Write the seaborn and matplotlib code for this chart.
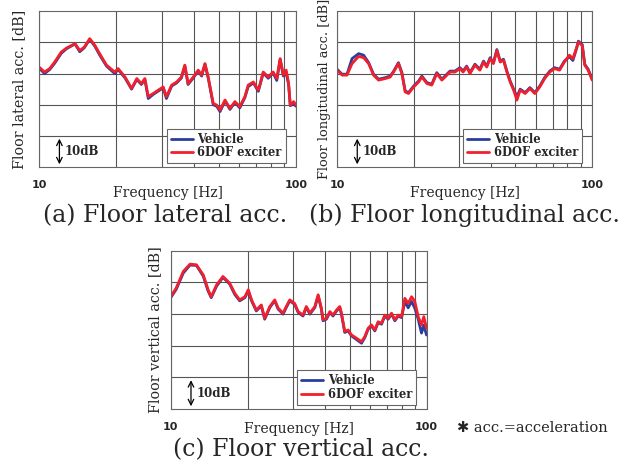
import numpy as np
import pandas as pd
import matplotlib
matplotlib.use("Agg")
import matplotlib.pyplot as plt
from matplotlib.ticker import FixedLocator, NullFormatter
import seaborn as sns

# donnees (dB relatifs, 1 carreau = 10 dB)
freq_a = [10.0, 10.5, 11.0, 11.5, 12.2, 12.8, 13.8, 14.4, 15.0, 15.75,
          16.5, 17.2, 18.3, 19.7, 20.3, 21.6, 22.9, 24.0, 25.0, 25.8,
          26.6, 27.8, 29.1, 30.4, 31.3, 32.8, 34.3, 35.8, 36.9, 38.0,
          39.8, 41.6, 42.9, 44.2, 45.5, 47.6, 49.1, 50.6, 52.9, 55.3,
          57.8, 60.4, 63.2, 65.1, 68.2, 71.3, 74.5, 77.9, 81.4, 84.1,
          86.7, 89.2, 91.5, 93.5, 94.9, 97.8, 100.0]
dof_a = [32.1, 30.5, 31.6, 33.7, 36.9, 38.2, 39.6, 37.4, 38.5, 41.2,
         39.0, 36.4, 32.7, 30.5, 31.6, 28.9, 25.2, 28.4, 26.8, 28.4,
         22.6, 23.6, 24.7, 25.7, 22.6, 26.3, 27.3, 28.9, 32.7, 26.8,
         28.9, 31.1, 29.5, 33.2, 28.9, 20.4, 19.9, 18.3, 21.5, 18.8,
         21.0, 19.4, 22.6, 26.3, 27.3, 24.7, 30.5, 28.9, 30.5, 28.4,
         34.8, 29.5, 31.1, 26.8, 19.9, 21.0, 19.9]
veh_a = [31.8, 30.0, 31.3, 33.3, 36.5, 38.0, 39.5, 37.0, 38.3, 41.0,
         38.7, 36.0, 32.4, 30.0, 31.3, 28.6, 25.0, 28.1, 26.5, 28.1,
         22.0, 23.3, 24.4, 25.4, 22.0, 26.0, 27.0, 28.6, 32.5, 26.5,
         28.6, 30.8, 29.2, 33.0, 28.6, 20.0, 19.5, 17.8, 21.2, 18.5,
         20.7, 19.0, 22.3, 25.8, 27.0, 24.3, 30.2, 28.5, 30.2, 27.8,
         34.5, 29.2, 30.2, 26.5, 19.7, 20.2, 19.5]

freq_b = [10.0, 10.46, 10.94, 11.45, 12.15, 12.71, 13.3, 13.9, 14.55, 15.46,
          16.16, 16.65, 17.4, 17.95, 18.5, 19.06, 19.96, 20.87, 21.5, 22.5,
          23.5, 24.6, 25.75, 26.5, 27.7, 29.0, 30.3, 31.2, 32.2, 33.2,
          34.7, 36.3, 37.5, 38.6, 39.8, 41.0, 42.3, 43.6, 44.9, 46.3,
          47.7, 49.2, 50.7, 52.2, 54.6, 57.0, 59.6, 62.3, 65.1, 68.2,
          71.2, 74.5, 77.8, 81.4, 84.0, 86.6, 88.3, 91.4, 93.5, 96.4, 100.0]
dof_b = [31.1, 29.5, 29.5, 33.2, 35.5, 35.1, 33.2, 29.5, 27.9, 28.4,
         28.9, 30.5, 33.2, 30.0, 24.1, 23.6, 25.7, 27.3, 28.9, 26.8,
         26.3, 30.0, 27.9, 28.9, 30.5, 30.5, 31.6, 30.5, 32.1, 30.0,
         32.7, 31.1, 33.7, 32.1, 34.8, 33.2, 37.4, 33.7, 34.3, 30.5,
         27.3, 24.7, 21.5, 24.7, 23.6, 25.2, 23.6, 25.7, 28.4, 30.5,
         31.6, 31.1, 33.7, 35.9, 34.8, 38.0, 40.1, 39.0, 32.7, 31.1, 27.9]
veh_b = [31.4, 29.8, 29.8, 34.8, 36.4, 35.9, 33.5, 29.8, 28.2, 28.7,
         29.2, 30.7, 33.5, 30.3, 24.4, 23.9, 26.0, 27.6, 29.2, 27.1,
         26.6, 30.3, 28.2, 29.2, 30.8, 30.8, 31.9, 30.8, 32.4, 30.3,
         33.0, 31.4, 34.0, 32.4, 35.1, 33.5, 37.7, 34.0, 34.6, 30.8,
         27.6, 25.0, 22.6, 25.0, 23.9, 25.5, 23.9, 26.0, 28.7, 30.8,
         31.9, 31.4, 34.0, 35.4, 34.2, 37.7, 40.4, 39.3, 33.0, 31.4, 28.2]

freq_c = [10.0, 10.5, 11.2, 11.9, 12.6, 13.4, 14.0, 14.4, 15.1, 16.0,
          17.0, 17.8, 18.6, 19.5, 20.1, 20.7, 21.6, 22.6, 23.3, 24.4,
          25.5, 26.3, 27.5, 28.3, 29.2, 30.5, 31.5, 32.9, 33.9, 35.0,
          36.6, 37.7, 38.8, 39.4, 40.6, 41.9, 43.1, 44.5, 45.8, 46.5,
          47.9, 49.4, 50.9, 53.2, 55.7, 57.4, 59.1, 60.9, 62.8, 64.7,
          66.7, 68.7, 70.8, 73.0, 75.2, 77.5, 79.9, 82.3, 84.8, 87.4,
          90.0, 92.8, 95.6, 97.6, 100.0]
dof_c = [35.5, 38.2, 43.5, 45.8, 45.6, 42.4, 37.7, 35.5, 39.2, 41.9,
         39.8, 36.6, 34.5, 35.5, 37.7, 34.5, 31.3, 32.9, 28.7, 32.4,
         34.5, 31.9, 30.3, 32.4, 34.5, 33.4, 30.8, 29.7, 32.4, 30.3,
         32.4, 36.1, 31.9, 28.2, 28.7, 30.8, 29.7, 31.3, 32.4, 30.3,
         24.5, 25.0, 23.4, 22.4, 21.3, 22.9, 25.5, 26.6, 25.0, 27.6,
         27.1, 29.7, 28.7, 30.3, 28.2, 29.7, 29.2, 35.0, 33.4, 35.5,
         34.0, 29.2, 26.6, 29.2, 25.5]
veh_c = [35.2, 37.8, 43.0, 45.5, 45.4, 42.0, 37.3, 35.2, 38.8, 41.6,
         39.5, 36.2, 34.2, 35.2, 37.4, 34.2, 31.0, 32.6, 28.4, 32.1,
         34.2, 31.6, 30.0, 32.1, 34.2, 33.1, 30.5, 29.4, 32.1, 30.0,
         32.1, 35.8, 31.6, 27.9, 28.4, 30.5, 29.4, 31.0, 32.1, 30.0,
         24.2, 24.7, 23.1, 22.0, 20.8, 22.6, 25.2, 26.3, 24.7, 27.3,
         26.8, 29.4, 28.4, 30.0, 27.9, 29.4, 28.9, 34.0, 32.0, 34.0,
         31.9, 28.4, 24.0, 26.5, 23.4]

labels_y = ['Floor lateral acc. [dB]', 'Floor longitudinal acc. [dB]', 'Floor vertical acc. [dB]']
captions = ['(a) Floor lateral acc.', '(b) Floor longitudinal acc.', '(c) Floor vertical acc.']

BLUE = '#2b3d9c'
RED = '#f0202c'
SERIF = 'DejaVu Serif'

sns.set_style("white")
fig = plt.figure(figsize=(6.3, 4.68), dpi=100)

# positions des 3 graphes (fraction de la figure)
ax_a = fig.add_axes([0.062, 0.643, 0.408, 0.333])
ax_b = fig.add_axes([0.535, 0.643, 0.405, 0.333])
ax_c = fig.add_axes([0.271, 0.126, 0.406, 0.338])


def trace(ax, f, veh, dof, ylab, ylab_x, ylab_size, xlab_y):
    df = pd.DataFrame({'f': f, 'veh': veh, 'dof': dof})
    sns.lineplot(data=df, x='f', y='veh', ax=ax, color=BLUE, lw=2.0,
                 estimator=None, sort=False, label='Vehicle')
    sns.lineplot(data=df, x='f', y='dof', ax=ax, color=RED, lw=2.0,
                 estimator=None, sort=False, label='6DOF exciter')
    ax.set_xscale('log')
    ax.set_xlim(10, 100)
    ax.set_ylim(0, 50)
    ax.set_yticks([10, 20, 30, 40])
    ax.set_yticklabels([])
    ax.xaxis.set_major_locator(FixedLocator([10, 100]))
    ax.xaxis.set_minor_locator(FixedLocator([20, 30, 40, 50, 60, 70, 80, 90]))
    ax.xaxis.set_minor_formatter(NullFormatter())
    ax.set_xticklabels(['10', '100'], fontsize=8, fontweight='bold')
    ax.tick_params(axis='both', which='both', length=0)
    ax.tick_params(axis='x', pad=9)
    ax.grid(True, which='both', color='#555555', lw=0.8)
    for s in ax.spines.values():
        s.set_color('#666666')
        s.set_linewidth(0.8)
    ax.set_xlabel('Frequency [Hz]', family=SERIF, fontsize=10)
    ax.xaxis.set_label_coords(0.5, xlab_y)
    ax.set_ylabel(ylab, family=SERIF, fontsize=ylab_size)
    ax.yaxis.set_label_coords(ylab_x, 0.5)
    # echelle 10 dB
    ax.annotate('', xy=(12.0, 0), xytext=(12.0, 10),
                arrowprops=dict(arrowstyle='<->', color='black', lw=0.9))
    ax.text(12.6, 5, '10dB', family=SERIF, fontsize=8.5, fontweight='bold',
            va='center', ha='left')
    leg = ax.legend(loc='lower right', bbox_to_anchor=(0.96, 0.025),
                    borderaxespad=0.0, frameon=True, fancybox=False,
                    handlelength=1.9, borderpad=0.35, labelspacing=0.05,
                    handletextpad=0.4,
                    prop={'family': SERIF, 'size': 8.3, 'weight': 'bold'})
    leg.get_frame().set_edgecolor('#666666')
    leg.get_frame().set_linewidth(0.8)
    leg.get_frame().set_alpha(1)


trace(ax_a, freq_a, veh_a, dof_a, labels_y[0], -0.05, 10.3, -0.12)
trace(ax_b, freq_b, veh_b, dof_b, labels_y[1], -0.025, 9.4, -0.12)
trace(ax_c, freq_c, veh_c, dof_c, labels_y[2], -0.035, 10.3, -0.08)

fig.text(0.262, 0.540, captions[0], family=SERIF, fontsize=17, ha='center', va='center')
fig.text(0.737, 0.540, captions[1], family=SERIF, fontsize=17, ha='center', va='center')
fig.text(0.478, 0.040, captions[2], family=SERIF, fontsize=17, ha='center', va='center')
fig.text(0.726, 0.085, '✱ acc.=acceleration', family=[SERIF, 'DejaVu Sans'],
         fontsize=10.5, ha='left', va='center')

fig.savefig('out.png', dpi=100)
